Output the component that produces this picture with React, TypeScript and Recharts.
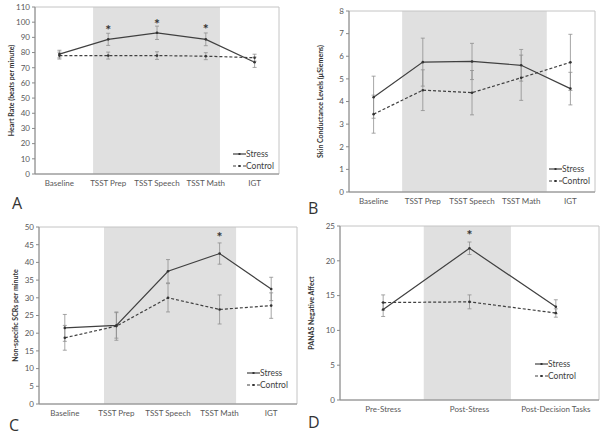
import React from "react"
import { LineChart, Line, XAxis, YAxis, ErrorBar, ReferenceArea, Legend } from "recharts"

const FONT = "Lato, 'Liberation Sans', sans-serif"

// categories
const phases = ["Baseline", "TSST Prep", "TSST Speech", "TSST Math", "IGT"]
const panasPhases = ["Pre-Stress", "Post-Stress", "Post-Decision Tasks"]

// A - heart rate
const hrTicks = [0, 10, 20, 30, 40, 50, 60, 70, 80, 90, 100, 110]
const hrStress = [79, 88.7, 93, 88.7, 73.6]
const hrStressErr = [2.5, 4, 4.4, 4.2, 3.4]
const hrControl = [78, 78, 78, 77.6, 76.6]
const hrControlErr = [2.3, 2.3, 2.5, 2.3, 2.3]
const hrStars = [null, 96, 100.4, 97, null]

// B - skin conductance
const sclTicks = [0, 1, 2, 3, 4, 5, 6, 7, 8]
const sclStress = [4.19, 5.74, 5.77, 5.6, 4.57]
const sclStressErr = [0.93, 1.06, 0.8, 0.7, 0.72]
const sclControl = [3.44, 4.5, 4.39, 5.05, 5.73]
const sclControlErr = [0.84, 0.9, 0.98, 1.0, 1.24]
const sclStars = [null, null, null, null, null]

// C - non-specific SCRs
const nsTicks = [0, 5, 10, 15, 20, 25, 30, 35, 40, 45, 50]
const nsStress = [21.5, 22.2, 37.5, 42.5, 32.5]
const nsStressErr = [3.8, 3.6, 3.3, 3, 3.3]
const nsControl = [18.7, 22, 30, 26.7, 27.8]
const nsControlErr = [3.5, 4, 4, 4.1, 3.6]
const nsStars = [null, null, null, 47.8, null]

// D - PANAS
const panasTicks = [0, 5, 10, 15, 20, 25]
const panasStress = [13, 21.8, 13.4]
const panasStressErr = [1, 0.9, 1]
const panasControl = [14, 14.1, 12.5]
const panasControlErr = [1.1, 1, 0.6]
const panasStars = [null, 24, null]

const buildRows = (cats, stress, stressErr, control, controlErr, stars) =>
  cats.map((name, i) => ({
    x: i + 0.5,
    name,
    stress: stress[i],
    stressErr: stressErr[i],
    control: control[i],
    controlErr: controlErr[i],
    star: stars[i],
  }))

const StarDot = (props) => {
  const { cx, cy, index } = props
  if (cy == null || cx == null || isNaN(cy)) return <g key={`s-${index}`} />
  return (
    <text key={`s-${index}`} x={cx} y={cy + 7} textAnchor="middle" fontSize={14} fontWeight={700} fill="#333" fontFamily={FONT}>
      *
    </text>
  )
}

const LegendBox = () => (
  <div style={{ fontFamily: FONT, fontSize: 8.5, color: "#404040", lineHeight: "12px" }}>
    <div style={{ display: "flex", alignItems: "center" }}>
      <svg width={13} height={6}>
        <line x1={0} y1={3} x2={13} y2={3} stroke="#404040" strokeWidth={1.2} />
        <rect x={5.5} y={2} width={2} height={2} fill="#333" />
      </svg>
      <span>Stress</span>
    </div>
    <div style={{ display: "flex", alignItems: "center" }}>
      <svg width={13} height={6}>
        <line x1={0} y1={3} x2={13} y2={3} stroke="#404040" strokeWidth={1.2} strokeDasharray="3 2" />
        <rect x={5.5} y={2} width={2} height={2} fill="#333" />
      </svg>
      <span>Control</span>
    </div>
  </div>
)

function Panel({ rows, cats, yTicks, yLabel, shade, margin, yWidth, yLabelX, legendPos, letter, letterPos, left, top }) {
  const yMin = yTicks[0]
  const yMax = yTicks[yTicks.length - 1]
  return (
    <div style={{ position: "absolute", left, top, width: 300, height: 218 }}>
      <LineChart width={300} height={218} data={rows} margin={margin}>
        <ReferenceArea x1={shade[0]} x2={shade[1]} y1={yMin} y2={yMax} fill="#e0e0e0" fillOpacity={1} stroke="none" />
        <ReferenceArea x1={0} x2={cats.length} y1={yMin} y2={yMax} fill="none" stroke="#c4c4c4" strokeWidth={1} />
        <XAxis
          type="number"
          dataKey="x"
          domain={[0, cats.length]}
          ticks={rows.map((r) => r.x)}
          interval={0}
          tickFormatter={(v) => cats[Math.floor(v)]}
          tickLine={false}
          tickSize={0}
          tickMargin={6}
          height={20}
          axisLine={{ stroke: "#8a8a8a" }}
          tick={{ fontSize: 8, fill: "#595959", fontFamily: FONT }}
        />
        <YAxis
          type="number"
          domain={[yMin, yMax]}
          ticks={yTicks}
          interval={0}
          width={yWidth}
          tickSize={3}
          tickMargin={2}
          axisLine={{ stroke: "#8a8a8a" }}
          tickLine={{ stroke: "#8a8a8a" }}
          tick={{ fontSize: 8, fill: "#595959", fontFamily: FONT }}
          label={(p) => {
            const vb = p.viewBox
            const cx = vb.x + yLabelX
            const cy = vb.y + vb.height / 2
            return (
              <text
                x={cx}
                y={cy}
                transform={`rotate(-90 ${cx} ${cy})`}
                textAnchor="middle"
                dominantBaseline="central"
                fontSize={7}
                fontWeight={700}
                fill="#333"
                fontFamily={FONT}
              >
                {yLabel}
              </text>
            )
          }}
        />
        <Line
          dataKey="stress"
          stroke="#404040"
          strokeWidth={1.2}
          dot={{ r: 1.3, fill: "#333", stroke: "none" }}
          activeDot={false}
          isAnimationActive={false}
        >
          <ErrorBar dataKey="stressErr" width={2} stroke="#8f8f8f" strokeWidth={0.8} direction="y" />
        </Line>
        <Line
          dataKey="control"
          stroke="#404040"
          strokeWidth={1.2}
          strokeDasharray="3 2"
          dot={{ r: 1.3, fill: "#333", stroke: "none" }}
          activeDot={false}
          isAnimationActive={false}
        >
          <ErrorBar dataKey="controlErr" width={2} stroke="#8f8f8f" strokeWidth={0.8} direction="y" />
        </Line>
        <Line dataKey="star" stroke="none" dot={StarDot} activeDot={false} legendType="none" isAnimationActive={false} />
        <Legend
          layout="vertical"
          align="center"
          verticalAlign="middle"
          content={() => <LegendBox />}
          wrapperStyle={{ left: legendPos[0], top: legendPos[1], width: "auto", height: "auto" }}
        />
      </LineChart>
      <div
        style={{
          position: "absolute",
          left: letterPos[0],
          top: letterPos[1],
          fontFamily: "'Open Sans', sans-serif",
          fontSize: 16,
          lineHeight: 1,
          color: "#333",
        }}
      >
        {letter}
      </div>
    </div>
  )
}

export default function App() {
  return (
    <div style={{ position: "absolute", left: 0, top: 0, width: 600, height: 436, background: "#fff" }}>
      <Panel
        rows={buildRows(phases, hrStress, hrStressErr, hrControl, hrControlErr, hrStars)}
        cats={phases}
        yTicks={hrTicks}
        yLabel="Heart Rate (beats per minute)"
        shade={[1.19, 3.79]}
        margin={{ top: 7, right: 21, left: 0, bottom: 24 }}
        yWidth={35}
        yLabelX={11}
        legendPos={[233, 148]}
        letter="A"
        letterPos={[12, 195]}
        left={0}
        top={0}
      />
      <Panel
        rows={buildRows(phases, sclStress, sclStressErr, sclControl, sclControlErr, sclStars)}
        cats={phases}
        yTicks={sclTicks}
        yLabel="Skin Conductance Levels (µSiemens)"
        shade={[1.08, 4.02]}
        margin={{ top: 11, right: 5, left: 0, bottom: 6 }}
        yWidth={49}
        yLabelX={20}
        legendPos={[249, 163]}
        letter="B"
        letterPos={[8, 200]}
        left={300}
        top={0}
      />
      <Panel
        rows={buildRows(phases, nsStress, nsStressErr, nsControl, nsControlErr, nsStars)}
        cats={phases}
        yTicks={nsTicks}
        yLabel="Non-specific SCRs per minute"
        shade={[1.26, 3.82]}
        margin={{ top: 9, right: 3, left: 0, bottom: 12 }}
        yWidth={39}
        yLabelX={15}
        legendPos={[247, 149]}
        letter="C"
        letterPos={[9, 199]}
        left={0}
        top={218}
      />
      <Panel
        rows={buildRows(panasPhases, panasStress, panasStressErr, panasControl, panasControlErr, panasStars)}
        cats={panasPhases}
        yTicks={panasTicks}
        yLabel="PANAS Negative Affect"
        shade={[0.97, 1.98]}
        margin={{ top: 8, right: 1, left: 0, bottom: 16 }}
        yWidth={40}
        yLabelX={11}
        legendPos={[235, 140]}
        letter="D"
        letterPos={[8, 196]}
        left={300}
        top={218}
      />
    </div>
  )
}
